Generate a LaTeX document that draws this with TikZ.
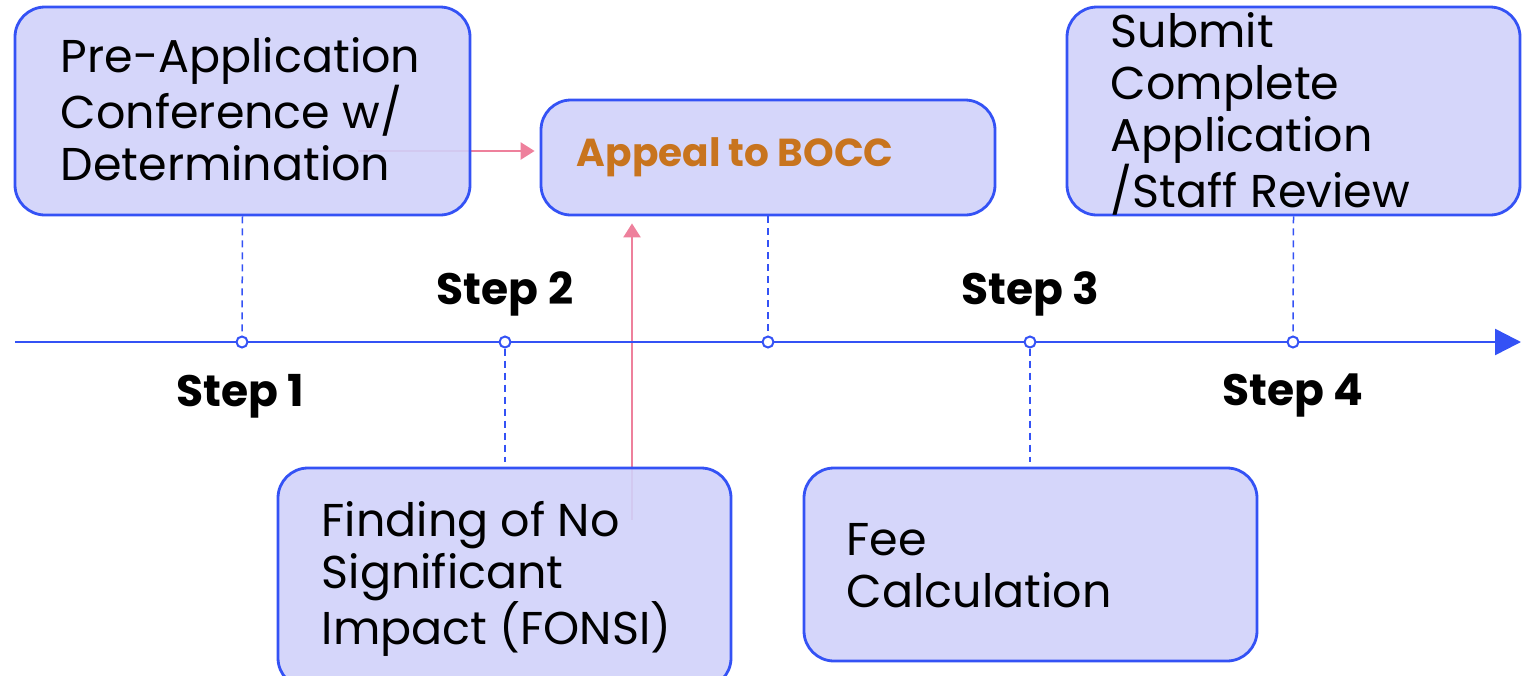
\documentclass[tikz,border=0pt]{standalone}
\usepackage{fontspec}
\setmainfont{Poppins}
\usepackage{tikz}
\usetikzlibrary{shapes,arrows.meta,positioning,calc,backgrounds}
\definecolor{boxfill}{RGB}{208,210,250}
\definecolor{boxline}{RGB}{52,82,245}
\definecolor{linkpink}{RGB}{238,128,156}
\definecolor{appealtext}{RGB}{200,116,30}
\tikzset{
box/.style = {draw=boxline, line width=2.8pt, fill=boxfill, fill opacity=0.9, rectangle, rounded corners=30pt, inner sep=0pt},
boxtext/.style = {anchor=west, align=left, inner sep=0pt, font=\fontsize{46}{52}\selectfont},
stepnode/.style = {font=\fontsize{44}{50}\selectfont\bfseries},
tick/.style = {draw=boxline, fill=white, circle, line width=2pt, inner sep=0pt, minimum size=11pt},
guide/.style = {draw=boxline, line width=1.5pt, dash pattern=on 7pt off 5pt},
link/.style = {draw=linkpink, line width=2.5pt, -{Triangle[length=14pt,width=17pt]}}
}
\begin{document}
\begin{tikzpicture}[x=1pt,y=-1pt]
  \useasboundingbox (0,0) rectangle (1529,675);
  % time line
  \coordinate (start) at (15,342);
  \coordinate (stop) at (1521,342);
  \draw[draw=boxline, line width=2.5pt, -{Triangle[length=26pt,width=26pt]}] (start) -- (stop);
  \foreach \n/\x in {1/242,2/505,3/768,4/1030,5/1293}
    \node[tick] (t\n) at (\x,342) {};

  % boxes
  \node [box, minimum width=455pt, minimum height=208pt] (pre) at (242.5,111) {};
  \node [box, minimum width=454pt, minimum height=115pt] (appeal) at (768,157.5) {};
  \node [box, minimum width=453pt, minimum height=208pt] (submit) at (1293.5,111) {};
  \node [box, minimum width=453pt, minimum height=220pt] (fonsi) at (504.5,578) {};
  \node [box, minimum width=453pt, minimum height=193pt] (fee) at (1030.5,564.5) {};

  \node [boxtext] at ([xshift=47pt,yshift=2pt]pre.west) {Pre-Application\\Conference w/\\Determination};
  \node [boxtext, anchor=west, font=\fontsize{39}{44}\selectfont\bfseries, text=appealtext] at ([xshift=37pt]appeal.west) {Appeal to BOCC};
  \node [boxtext] at ([xshift=45pt,yshift=-3pt]submit.west) {Submit\\Complete\\Application\\/Staff Review};
  \node [boxtext] at ([xshift=45pt,yshift=-1pt]fonsi.west) {Finding of No\\Significant\\Impact (FONSI)};
  \node [boxtext] at ([xshift=44pt,yshift=-1pt]fee.west) {Fee\\Calculation};

  % step labels
  \node [stepnode] at (240,396) {Step 1};
  \node [stepnode] at (505,294) {Step 2};
  \node [stepnode] at (1030,294) {Step 3};
  \node [stepnode] at (1293,396) {Step 4};

  % pink links run under the boxes
  \coordinate (from1) at (358,151);
  \coordinate (from2) at (632,520);
  \begin{scope}[on background layer]
    \draw [guide] (pre.south) -- (t1);
    \draw [guide] (t2) -- (505,462);
    \draw [guide] (appeal.south) -- (t3);
    \draw [guide] (t4) -- (1030,462);
    \draw [guide] (submit.south) -- (t5);
    \draw [link, shorten >=5pt] (from1) -- (appeal.west |- from1);
    \draw [link, shorten >=7pt] (from2) -- (appeal.south -| from2);
  \end{scope}
\end{tikzpicture}
\end{document}
